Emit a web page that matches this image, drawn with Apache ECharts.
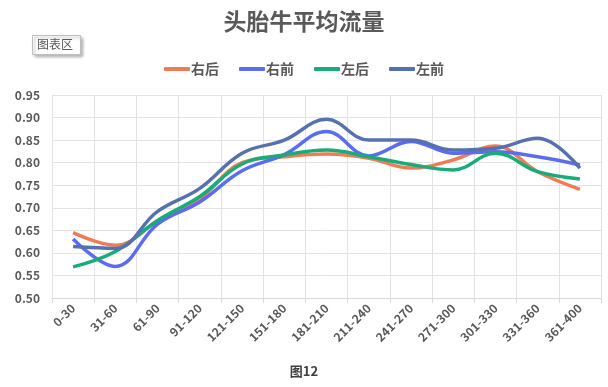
<!DOCTYPE html>
<html><head><meta charset="utf-8">
<script src="https://cdn.jsdelivr.net/npm/echarts@6/dist/echarts.min.js"></script>
<style>html,body{margin:0;padding:0;background:#fff}#c{width:608px;height:387px}</style>
</head><body><div id="c"></div>
<script>
const categories = ['0-30','31-60','61-90','91-120','121-150','151-180','181-210','211-240','241-270','271-300','301-330','331-360','361-400'];
const youHou  = [0.645,0.617,0.670,0.720,0.800,0.813,0.819,0.810,0.788,0.806,0.837,0.780,0.741];
const youQian = [0.631,0.570,0.664,0.713,0.782,0.818,0.869,0.815,0.847,0.821,0.824,0.813,0.795];
const zuoHou  = [0.569,0.603,0.672,0.725,0.797,0.817,0.828,0.813,0.796,0.784,0.821,0.780,0.764];
const zuoQian = [0.614,0.610,0.692,0.743,0.821,0.850,0.896,0.850,0.850,0.828,0.832,0.854,0.788];
const yTicks = {min:0.5, max:0.95, interval:0.05};
const seriesNames = ['右后','右前','左后','左前'];
const colors = ['#F07C56','#5B6CF2','#17AC78','#5670B0'];
const seriesData = [youHou, youQian, zuoHou, zuoQian];

const chart = echarts.init(document.getElementById('c'));
const font = '"Noto Sans CJK SC", "Microsoft YaHei", sans-serif';
chart.setOption({
  animation:false,
  textStyle:{fontFamily:font},
  title:{text:'头胎牛平均流量', left:'center', top:5,
    textStyle:{fontSize:23, fontWeight:'bold', color:'#595959', fontFamily:font}},
  legend:{top:57, left:'center', itemWidth:26, itemHeight:4, itemGap:20,
    icon:'roundRect',
    textStyle:{fontSize:14, fontWeight:'bold', color:'#595959', fontFamily:font, padding:[0,0,0,-4]},
    data:seriesNames},
  grid:{left:52, right:7, top:95, bottom:89, containLabel:false},
  xAxis:{type:'category', data:categories, boundaryGap:true,
    axisLine:{lineStyle:{color:'#d9d9d9'}},
    axisTick:{show:true, lineStyle:{color:'#d9d9d9'}, length:5},
    splitLine:{show:true, lineStyle:{color:'#e3e3e3'}},
    axisLabel:{rotate:45, color:'#595959', fontSize:12, fontWeight:'bold', fontFamily:font, margin:8, interval:0}},
  yAxis:{type:'value', min:yTicks.min, max:yTicks.max, interval:yTicks.interval,
    axisLine:{show:false}, axisTick:{show:false},
    splitLine:{lineStyle:{color:'#e3e3e3'}},
    axisLabel:{color:'#595959', fontSize:12, fontWeight:'bold', fontFamily:font, margin:12,
      formatter:v=>v.toFixed(2)}},
  graphic:[
    {type:'rect', left:32, top:35, shape:{width:48, height:19},
      style:{fill:'#fff', stroke:'#bfbfbf', lineWidth:1, shadowBlur:3, shadowOffsetX:2, shadowOffsetY:2, shadowColor:'rgba(0,0,0,0.3)'}},
    {type:'text', left:37, top:38, style:{text:'图表区', fontSize:12, fill:'#595959', fontFamily:font}},
    {type:'text', left:'center', top:365, style:{text:'图12', fontSize:13, fontWeight:'bold', fill:'#404040', fontFamily:font}}
  ],
  series: seriesNames.map((n,i)=>({
    name:n, type:'line', smooth:0.4, data:seriesData[i], symbol:'none',
    lineStyle:{width:3.5, color:colors[i]}, itemStyle:{color:colors[i]}
  }))
});
</script></body></html>
